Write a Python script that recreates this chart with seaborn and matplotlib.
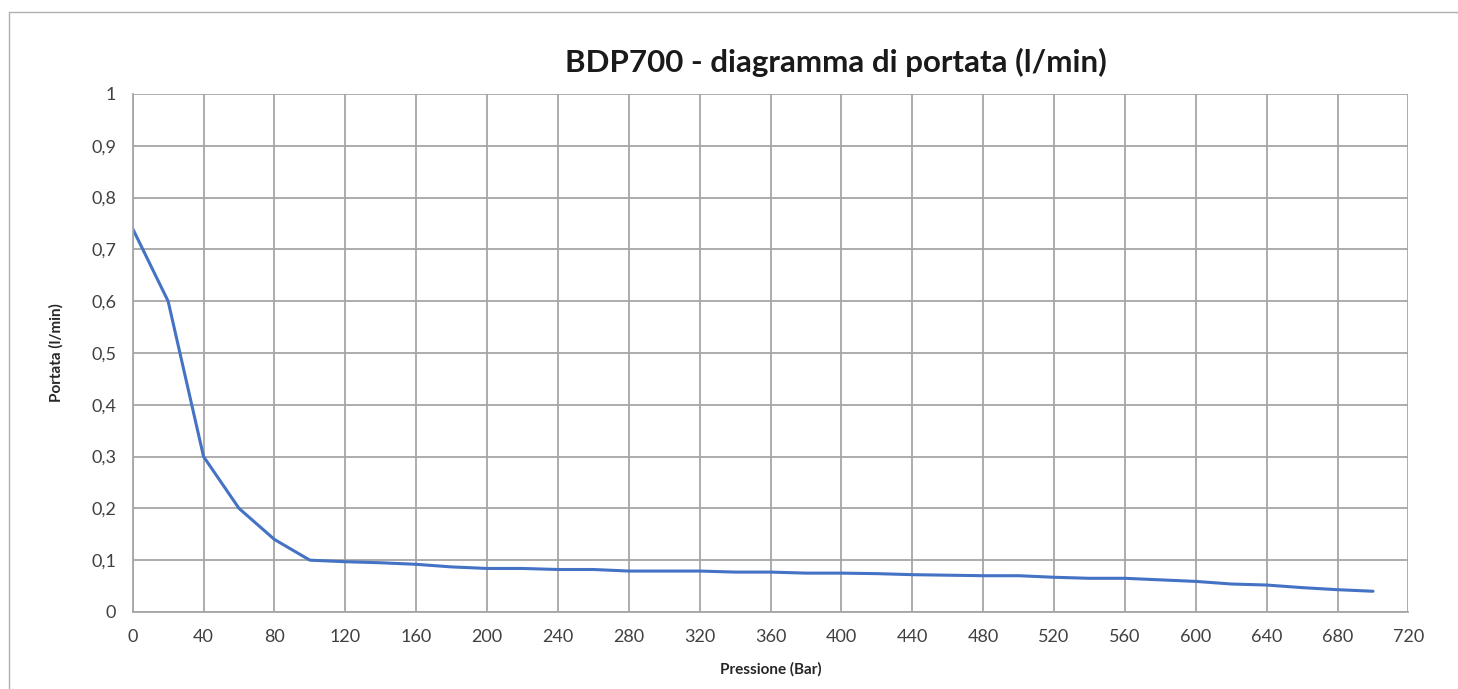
import matplotlib
matplotlib.use("Agg")
import matplotlib.pyplot as plt
import matplotlib.ticker as mticker
from matplotlib.lines import Line2D
import seaborn as sns
import pandas as pd

# Pressure (bar) and flow rate (l/min)
pressione = [0, 20, 40, 60, 80, 100, 120, 140, 160, 180, 200, 220, 240, 260,
             280, 300, 320, 340, 360, 380, 400, 420, 440, 460, 480, 500, 520,
             540, 560, 580, 600, 620, 640, 660, 680, 700]
portata = [0.74, 0.60, 0.30, 0.20, 0.14, 0.10, 0.097, 0.095, 0.092, 0.087,
           0.084, 0.084, 0.082, 0.082, 0.079, 0.079, 0.079, 0.077, 0.077,
           0.075, 0.075, 0.074, 0.072, 0.071, 0.070, 0.070, 0.067, 0.065,
           0.065, 0.062, 0.059, 0.054, 0.052, 0.047, 0.043, 0.040]

title = "BDP700 - diagramma di portata (l/min)"
xlabel = "Pressione (Bar)"
ylabel = "Portata (l/min)"

df = pd.DataFrame({"Pressione": pressione, "Portata": portata})

sns.set_style("white")
plt.rcParams["font.family"] = ["Lato", "DejaVu Sans"]

grid_col = "#a6a6a6"

fig = plt.figure(figsize=(14.58, 6.89), dpi=100)
ax = fig.add_axes([0.091, 0.1118, 0.875, 0.7518])

sns.lineplot(data=df, x="Pressione", y="Portata", ax=ax, color="#4472C4", linewidth=2.2)

ax.set_xlim(0, 720)
ax.set_ylim(0, 1)
ax.xaxis.set_major_locator(mticker.MultipleLocator(40))
ax.yaxis.set_major_locator(mticker.MultipleLocator(0.1))
ax.yaxis.set_major_formatter(mticker.FuncFormatter(
    lambda v, p: "0" if abs(v) < 1e-9 else ("1" if abs(v - 1) < 1e-9 else f"{v:.1f}".replace(".", ","))))

ax.grid(True, color=grid_col, linewidth=1.3)
ax.set_axisbelow(True)
for s in ["top", "right"]:
    ax.spines[s].set_visible(False)
for s in ["left", "bottom"]:
    ax.spines[s].set_color(grid_col)
    ax.spines[s].set_linewidth(1.3)
ax.tick_params(axis="both", length=5, width=1.3, color=grid_col, labelsize=13, labelcolor="#404040")
ax.tick_params(axis="x", direction="inout", pad=10)
ax.tick_params(axis="y", direction="out", pad=7)

ax.set_xlabel(xlabel, fontsize=11, fontweight="bold", color="#262626", labelpad=12)
ax.set_ylabel(ylabel, fontsize=11, fontweight="bold", color="#262626", labelpad=20)

fig.text(0.573, 0.91, title, ha="center", va="center", fontsize=22.5, fontweight="bold", color="#1a1a1a")

# spreadsheet frame around the chart
fig.add_artist(Line2D([0.0062, 0.0062], [0.0, 0.982], color="#b0b0b0", linewidth=1))
fig.add_artist(Line2D([0.0062, 1.0], [0.982, 0.982], color="#b0b0b0", linewidth=1))

fig.savefig("out.png", dpi=100)
